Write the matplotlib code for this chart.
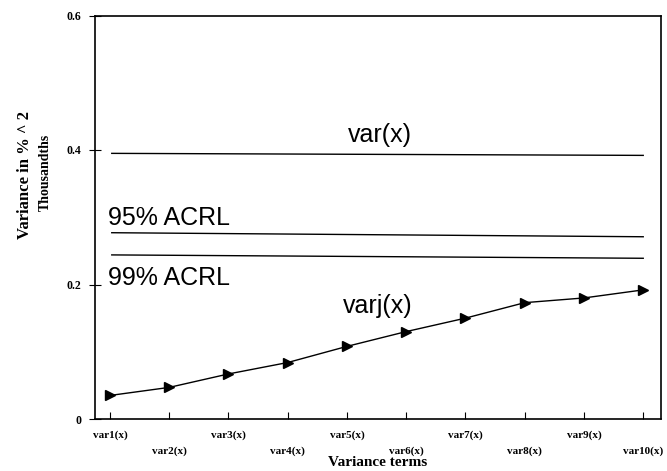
import matplotlib
matplotlib.use("Agg")
import matplotlib.pyplot as plt

# ---- data ----
categories = ["var1(x)", "var2(x)", "var3(x)", "var4(x)", "var5(x)",
              "var6(x)", "var7(x)", "var8(x)", "var9(x)", "var10(x)"]
varj = [0.035, 0.047, 0.067, 0.084, 0.108, 0.130, 0.150, 0.173, 0.180, 0.192]
line_x = [1.03, 10.0]
var_x = [0.395, 0.392]
acrl95 = [0.277, 0.271]
acrl99 = [0.244, 0.239]
yticks = [0, 0.2, 0.4, 0.6]
ytick_labels = ["0", "0.2", "0.4", "0.6"]

W, H = 667, 471
fig = plt.figure(figsize=(W / 100, H / 100), dpi=100)
ax = fig.add_axes([95 / W, 1 - 419 / H, (661 - 95) / W, (419 - 15.5) / H])

xs = list(range(1, len(categories) + 1))
ax.plot(line_x, var_x, color="black", lw=1.0)
ax.plot(line_x, acrl95, color="black", lw=1.0)
ax.plot(line_x, acrl99, color="black", lw=1.0)
ax.plot(xs, varj, color="black", lw=1.0, marker=">", markersize=7,
        markerfacecolor="black", markeredgecolor="black")

ax.set_xlim(0.747, 10.30)
ax.set_ylim(0, 0.6)

def px2x(px):
    return 1 + (px - 110) / 59.2

def px2y(py):
    return (419 - py) / 672.5

txt = dict(family=["Liberation Sans", "DejaVu Sans"], fontsize=18, color="black")
ax.text(px2x(348), px2y(142), "var(x)", ha="left", va="baseline", **txt)
ax.text(px2x(108), px2y(225), "95% ACRL", ha="left", va="baseline", **txt)
ax.text(px2x(108), px2y(285), "99% ACRL", ha="left", va="baseline", **txt)
ax.text(px2x(343), px2y(313), "varj(x)", ha="left", va="baseline", **txt)

serif = ["Liberation Serif", "DejaVu Serif"]
ax.set_xticks(xs)
ax.set_xticklabels(categories, family=serif, fontsize=8, fontweight="bold")
ax.tick_params(axis="x", direction="in", length=5, width=0.8)
for i, t in enumerate(ax.xaxis.get_major_ticks()):
    t.set_pad(8 if i % 2 == 0 else 20)

ax.set_yticks(yticks)
ax.set_yticklabels(ytick_labels, family=serif, fontsize=8.5, fontweight="bold")
ax.tick_params(axis="y", direction="inout", length=8, width=0.8, pad=6)

for s in ax.spines.values():
    s.set_linewidth(1.2)
    s.set_color("black")

fig.text(378 / W, 1 - 462 / H, "Variance terms", ha="center", va="center",
         family=serif, fontsize=11, fontweight="bold")
fig.text(25 / W, 1 - 175 / H, "Variance in % ^ 2", ha="center", va="center",
         rotation=90, family=serif, fontsize=12, fontweight="bold")
fig.text(45 / W, 1 - 172 / H, "Thousandths", ha="center", va="center",
         rotation=90, family=serif, fontsize=10, fontweight="bold")

fig.savefig("out.png", dpi=100, facecolor="white")
